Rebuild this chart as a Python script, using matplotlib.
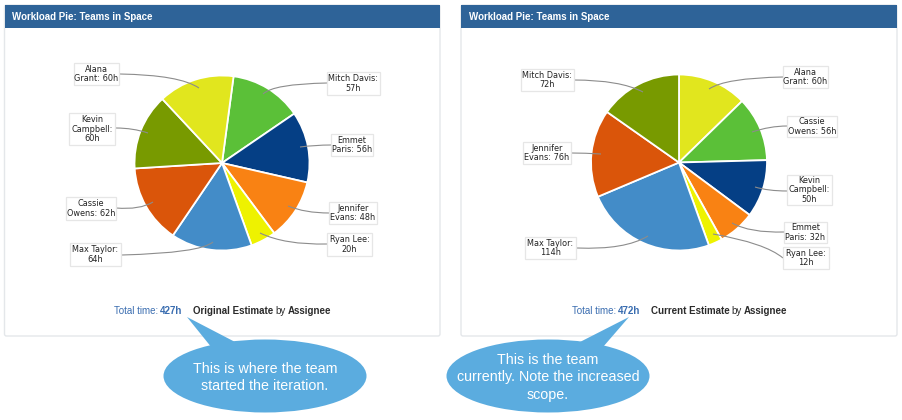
import matplotlib
matplotlib.use("Agg")
import matplotlib.pyplot as plt
from matplotlib.patches import FancyBboxPatch, Rectangle, Ellipse, Polygon, PathPatch
from matplotlib.path import Path

W, H = 902, 420

# Data ------------------------------------------------------------------
left_names = ["Mitch Davis:\n57h", "Emmet\nParis: 56h", "Jennifer\nEvans: 48h", "Ryan Lee:\n20h",
              "Max Taylor:\n64h", "Cassie\nOwens: 62h", "Kevin\nCampbell:\n60h", "Alana\nGrant: 60h"]
left_hours = [57, 56, 48, 20, 64, 62, 60, 60]
right_names = ["Alana\nGrant: 60h", "Cassie\nOwens: 56h", "Kevin\nCampbell:\n50h", "Emmet\nParis: 32h",
               "Ryan Lee:\n12h", "Max Taylor:\n114h", "Jennifer\nEvans: 76h", "Mitch Davis:\n72h"]
right_hours = [60, 56, 50, 32, 12, 114, 76, 72]
left_colors = ["#5BC038", "#053F85", "#F98213", "#EEF200", "#438CC8", "#DA550A", "#789A00", "#E1E61E"]
right_colors = ["#E1E61E", "#5BC038", "#053F85", "#F98213", "#EEF200", "#438CC8", "#DA550A", "#789A00"]
panel_title = "Workload Pie: Teams in Space"
left_total = "427h"
right_total = "472h"
left_callout = "This is where the team\nstarted the iteration."
right_callout = "This is the team\ncurrently. Note the increased\nscope."

# Layout (pixels, y from top) -------------------------------------------
# box x0, x1, y0, y1, leader start, control, end
left_layout = [
    (327, 380, 72, 95, (327, 83), (273, 84), (263, 94)),
    (331, 373, 134, 156, (331, 145), (315, 145), (300, 147)),
    (329, 377, 202, 224, (329, 213), (305, 213), (288, 206)),
    (327, 372, 233, 256, (327, 244), (285, 245), (260, 233)),
    (70, 121, 243, 266, (122, 255), (200, 253), (213, 242)),
    (66, 116, 197, 220, (116, 208), (140, 210), (153, 202)),
    (69, 115, 113, 145, (116, 128), (133, 128), (148, 133)),
    (74, 119, 63, 85, (120, 74), (180, 75), (199, 88)),
]
right_layout = [
    (783, 828, 66, 88, (783, 77), (725, 78), (709, 89)),
    (787, 837, 116, 137, (787, 126), (770, 126), (752, 132)),
    (787, 832, 175, 205, (787, 191), (768, 191), (755, 187)),
    (784, 827, 222, 243, (784, 232), (750, 233), (732, 223)),
    (783, 829, 247, 269, (783, 258), (765, 243), (713, 234)),
    (525, 576, 237, 259, (577, 248), (625, 250), (648, 236)),
    (523, 571, 142, 164, (571, 153), (585, 153), (601, 154)),
    (521, 574, 69, 91, (574, 80), (620, 80), (643, 92)),
]

fig = plt.figure(figsize=(W / 100, H / 100), dpi=100, facecolor="white")
ax = fig.add_axes([0, 0, 1, 1])


def Y(y):
    return H - y


SANS = "Liberation Sans"
FOOT = 7.0


def panel(x0, x1, cx, cy, r, hours, colors, start, names, layout):
    ax.add_patch(FancyBboxPatch((x0, Y(336)), x1 - x0, 331, boxstyle="round,pad=0,rounding_size=2",
                                fc="white", ec="#E4E7EA", lw=1.0, zorder=1))
    ax.add_patch(Rectangle((x0, Y(28)), x1 - x0, 23, fc="#2E6398", ec="none", zorder=2))
    ax.text(x0 + 8, Y(17), panel_title, color="white", fontsize=7.0, fontweight="bold",
            family=SANS, va="center", ha="left", zorder=3)
    wedges, _ = ax.pie(hours, colors=colors, startangle=start, counterclock=False,
                       center=(cx, Y(cy)), radius=r,
                       wedgeprops=dict(edgecolor="white", linewidth=1.3, zorder=4))
    for name, (bx0, bx1, by0, by1, a, c, b) in zip(names, layout):
        ax.add_patch(PathPatch(Path([(a[0], Y(a[1])), (c[0], Y(c[1])), (b[0], Y(b[1]))],
                                    [Path.MOVETO, Path.CURVE3, Path.CURVE3]),
                               fc="none", ec="#8C8C8C", lw=0.8, zorder=6))
        ax.add_patch(Rectangle((bx0, Y(by1)), bx1 - bx0, by1 - by0, fc="white", ec="#E6E6E6",
                               lw=0.9, zorder=7))
        ax.text((bx0 + bx1) / 2, Y((by0 + by1) / 2), name, fontsize=5.9, color="#222222",
                family="DejaVu Sans", ha="center", va="center", linespacing=1.05, zorder=8)


def footer(xs, total, measure):
    y = Y(311)
    blue = "#3A6DB0"
    dark = "#2B2B2B"
    ax.text(xs[0], y, "Total time:", color=blue, fontsize=FOOT, family=SANS, va="center")
    ax.text(xs[1], y, total, color=blue, fontsize=FOOT, family=SANS, fontweight="bold", va="center")
    ax.text(xs[2], y, measure, color=dark, fontsize=FOOT, family=SANS, fontweight="bold", va="center")
    ax.text(xs[3], y, "by", color=dark, fontsize=FOOT, family=SANS, va="center")
    ax.text(xs[4], y, "Assignee", color=dark, fontsize=FOOT, family=SANS, fontweight="bold", va="center")


def callout(cx, cy, w, h, tail, text):
    col = "#5BACDF"
    ax.add_patch(Ellipse((cx, Y(cy)), w, h, fc=col, ec="none", zorder=9))
    ax.add_patch(Polygon([(px, Y(py)) for px, py in tail], closed=True, fc=col, ec="none", zorder=9))
    ax.text(cx, Y(cy + 1.5), text, color="white", fontsize=10.3, family=SANS, ha="center", va="center",
            linespacing=1.3, zorder=10)


panel(4.5, 440, 222, 163, 87.5, left_hours, left_colors, 82.4, left_names, left_layout)
panel(461, 897, 679, 162.5, 88, right_hours, right_colors, 90, right_names, right_layout)
footer((113.5, 160, 193, 275, 288), left_total, "Original Estimate")
footer((571.5, 618, 651, 731.5, 744), right_total, "Current Estimate")
callout(265, 376, 203, 73, [(187, 317), (237, 343), (212, 348)], left_callout)
callout(548, 376, 203, 73, [(629, 317), (578, 343), (603, 347)], right_callout)

ax.set_xlim(0, W)
ax.set_ylim(0, H)
ax.set_aspect("auto")
ax.set_axis_off()
fig.savefig("out.png", dpi=100, facecolor="white")
